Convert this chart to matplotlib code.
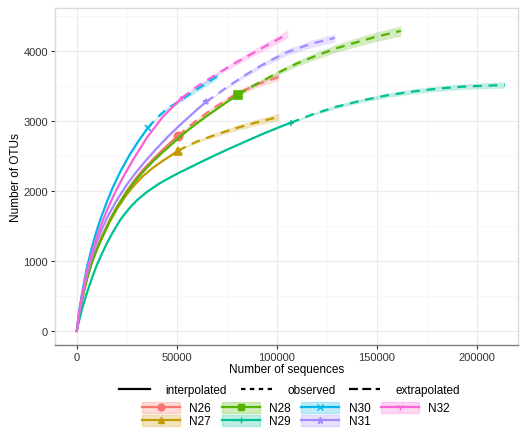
import matplotlib
matplotlib.use("Agg")
import matplotlib.pyplot as plt
from matplotlib.lines import Line2D
from matplotlib.patches import Patch

plt.rcParams['font.family'] = ['Liberation Sans', 'DejaVu Sans']

# samples, colours and point shapes
samples = ["N26", "N27", "N28", "N29", "N30", "N31", "N32"]
colors = ["#F8766D", "#C49A00", "#53B400", "#00C094", "#00B6EB", "#A58AFF", "#FB61D7"]
shapes = ["o", "^", "s", "+", "x", "*", "1"]
marker_sizes = [6, 6, 6, 4, 4, 4, 4]

# reference (observed) sample sizes and richness
ref_x = [50500, 50500, 80500, 107000, 35500, 64500, 52500]
ref_y = [2786, 2571, 3375, 2975, 2900, 3270, 3330]

# interpolated part (0 .. reference size)
interp_x = [
    [0, 1000, 2500, 5000, 7500, 10000, 12500, 16500, 20000, 25000, 29000, 33000, 38000, 43000, 47000, 50500],
    [0, 1000, 2500, 5000, 7500, 10000, 12500, 16500, 20000, 25000, 29000, 33000, 38000, 43000, 47000, 50500],
    [0, 1000, 2500, 5000, 7500, 10000, 12500, 16500, 20000, 25000, 29000, 33000, 38000, 43000, 50500,
     55000, 60000, 65000, 70000, 75000, 80500],
    [0, 1000, 2500, 5000, 7500, 10000, 12500, 15000, 18000, 22000, 26500, 30000, 35000, 41500, 46500,
     51500, 56500, 60000, 68000, 76500, 85000, 93000, 101500, 107000],
    [0, 1000, 2500, 5000, 7500, 10000, 12500, 15000, 18000, 22000, 26500, 31000, 35500],
    [0, 1000, 2500, 5000, 7500, 10000, 12500, 15000, 20000, 25000, 30000, 35000, 40000, 45000, 50000,
     55000, 60000, 64500],
    [0, 1000, 2500, 5000, 7500, 10000, 12500, 15000, 19000, 23000, 28000, 35000, 43000, 52500],
]
interp_y = [
    [0, 200, 440, 750, 990, 1180, 1350, 1590, 1770, 2000, 2160, 2300, 2450, 2590, 2695, 2786],
    [0, 200, 435, 740, 975, 1160, 1320, 1560, 1740, 1950, 2090, 2210, 2330, 2430, 2505, 2571],
    [0, 195, 430, 735, 975, 1165, 1330, 1575, 1765, 1985, 2135, 2270, 2420, 2555, 2745,
     2855, 2965, 3070, 3170, 3270, 3375],
    [0, 130, 300, 540, 750, 940, 1100, 1250, 1410, 1600, 1760, 1865, 1985, 2110, 2190,
     2265, 2335, 2385, 2495, 2607, 2715, 2815, 2914, 2975],
    [0, 250, 520, 900, 1190, 1440, 1650, 1840, 2050, 2290, 2520, 2720, 2900],
    [0, 220, 460, 800, 1060, 1270, 1450, 1610, 1870, 2090, 2280, 2450, 2610, 2760, 2900,
     3030, 3160, 3270],
    [0, 230, 490, 840, 1110, 1340, 1540, 1720, 1970, 2190, 2440, 2760, 3060, 3330],
]

# extrapolated part (reference size .. 2x)
extrap_x = [
    [50500, 55000, 60000, 65000, 70000, 80000, 90000, 101000],
    [50500, 55000, 60000, 70000, 80000, 90000, 101000],
    [80500, 90000, 100000, 110000, 120000, 130000, 140000, 150000, 162000],
    [107000, 118000, 130000, 143000, 155000, 168000, 180000, 193000, 214000],
    [35500, 40000, 45000, 51500, 60000, 70500],
    [64500, 70000, 76500, 84000, 91500, 98000, 105000, 117000, 129000],
    [52500, 60000, 70000, 80000, 90000, 105500],
]
extrap_y = [
    [2786, 2895, 3010, 3115, 3215, 3390, 3520, 3629],
    [2571, 2640, 2705, 2810, 2900, 2980, 3057],
    [3375, 3530, 3680, 3820, 3935, 4040, 4125, 4205, 4286],
    [2975, 3095, 3205, 3295, 3365, 3420, 3460, 3490, 3514],
    [2900, 3045, 3170, 3290, 3450, 3645],
    [3270, 3380, 3510, 3650, 3780, 3880, 3980, 4100, 4186],
    [3330, 3490, 3670, 3840, 4000, 4243],
]
# half width of the confidence band along the extrapolated part
extrap_ci = [
    [8, 14, 20, 26, 30, 38, 45, 52],
    [8, 14, 20, 30, 38, 45, 52],
    [10, 22, 32, 42, 50, 57, 63, 68, 72],
    [8, 18, 24, 28, 32, 35, 38, 40, 44],
    [10, 18, 24, 30, 36, 42],
    [8, 15, 22, 30, 35, 40, 45, 53, 60],
    [8, 18, 30, 40, 48, 58],
]

xticks = [0, 50000, 100000, 150000, 200000]
yticks = [0, 1000, 2000, 3000, 4000]

fig = plt.figure(figsize=(5.22, 4.39), dpi=100)
ax = fig.add_axes([0.105, 0.212, 0.887, 0.767])

for i, s in enumerate(samples):
    c = colors[i]
    ex, ey, ci = extrap_x[i], extrap_y[i], extrap_ci[i]
    ax.fill_between(ex, [y - d for y, d in zip(ey, ci)], [y + d for y, d in zip(ey, ci)],
                    color=c, alpha=0.25, lw=0)
    ax.fill_between(interp_x[i], [y - 8 for y in interp_y[i]], [y + 8 for y in interp_y[i]],
                    color=c, alpha=0.2, lw=0)
    ax.plot(interp_x[i], interp_y[i], color=c, lw=1.6, solid_joinstyle='round')
    ax.plot(ex, ey, color=c, lw=1.6, dashes=(4, 3))
    ax.plot([ref_x[i]], [ref_y[i]], marker=shapes[i], color=c, ms=marker_sizes[i],
            mew=1.2, ls='none')

ax.set_xlim(-11000, 220500)
ax.set_ylim(-200, 4610)
ax.set_xticks(xticks)
ax.set_xticklabels([str(v) for v in xticks])
ax.set_yticks(yticks)
ax.set_yticklabels([str(v) for v in yticks])
ax.set_xticks([25000, 75000, 125000, 175000], minor=True)
ax.set_yticks([500, 1500, 2500, 3500, 4500], minor=True)
ax.grid(which='major', color='#EBEBEB', lw=0.8)
ax.grid(which='minor', color='#F5F5F5', lw=0.5)
ax.set_axisbelow(True)
for sp in ax.spines.values():
    sp.set_color('#D9D9D9')
    sp.set_linewidth(1.0)
ax.spines['bottom'].set_color('#7F7F7F')
ax.tick_params(which='major', length=3, color='#333333', labelsize=8, labelcolor='#333333', pad=2)
ax.tick_params(which='minor', length=0)
ax.set_xlabel("Number of sequences", fontsize=8.5, labelpad=1)
ax.set_ylabel("Number of OTUs", fontsize=8.5, labelpad=1)

# line type legend
lt_handles = [Line2D([], [], color='black', lw=1.6),
              Line2D([], [], color='black', lw=1.6, dashes=(2, 2)),
              Line2D([], [], color='black', lw=1.6, dashes=(4, 2))]
fig.legend(lt_handles, ["interpolated", "observed", "extrapolated"], ncol=3,
           loc='center', bbox_to_anchor=(0.555, 0.11), frameon=False, fontsize=8.5,
           handlelength=2.6, columnspacing=1.2, handletextpad=1.3)

# sample legend
handles = []
for i, s in enumerate(samples):
    handles.append((Patch(facecolor=colors[i], alpha=0.25, edgecolor=colors[i], lw=1),
                    Line2D([], [], color=colors[i], lw=1.6, marker=shapes[i], ms=5)))
fig.legend(handles, samples, ncol=4, loc='center', bbox_to_anchor=(0.567, 0.053),
           frameon=False, fontsize=8.5, handlelength=3.2, handleheight=1.0,
           columnspacing=0.9, handletextpad=0.8, labelspacing=0.05)

fig.savefig("out.png", dpi=100)
